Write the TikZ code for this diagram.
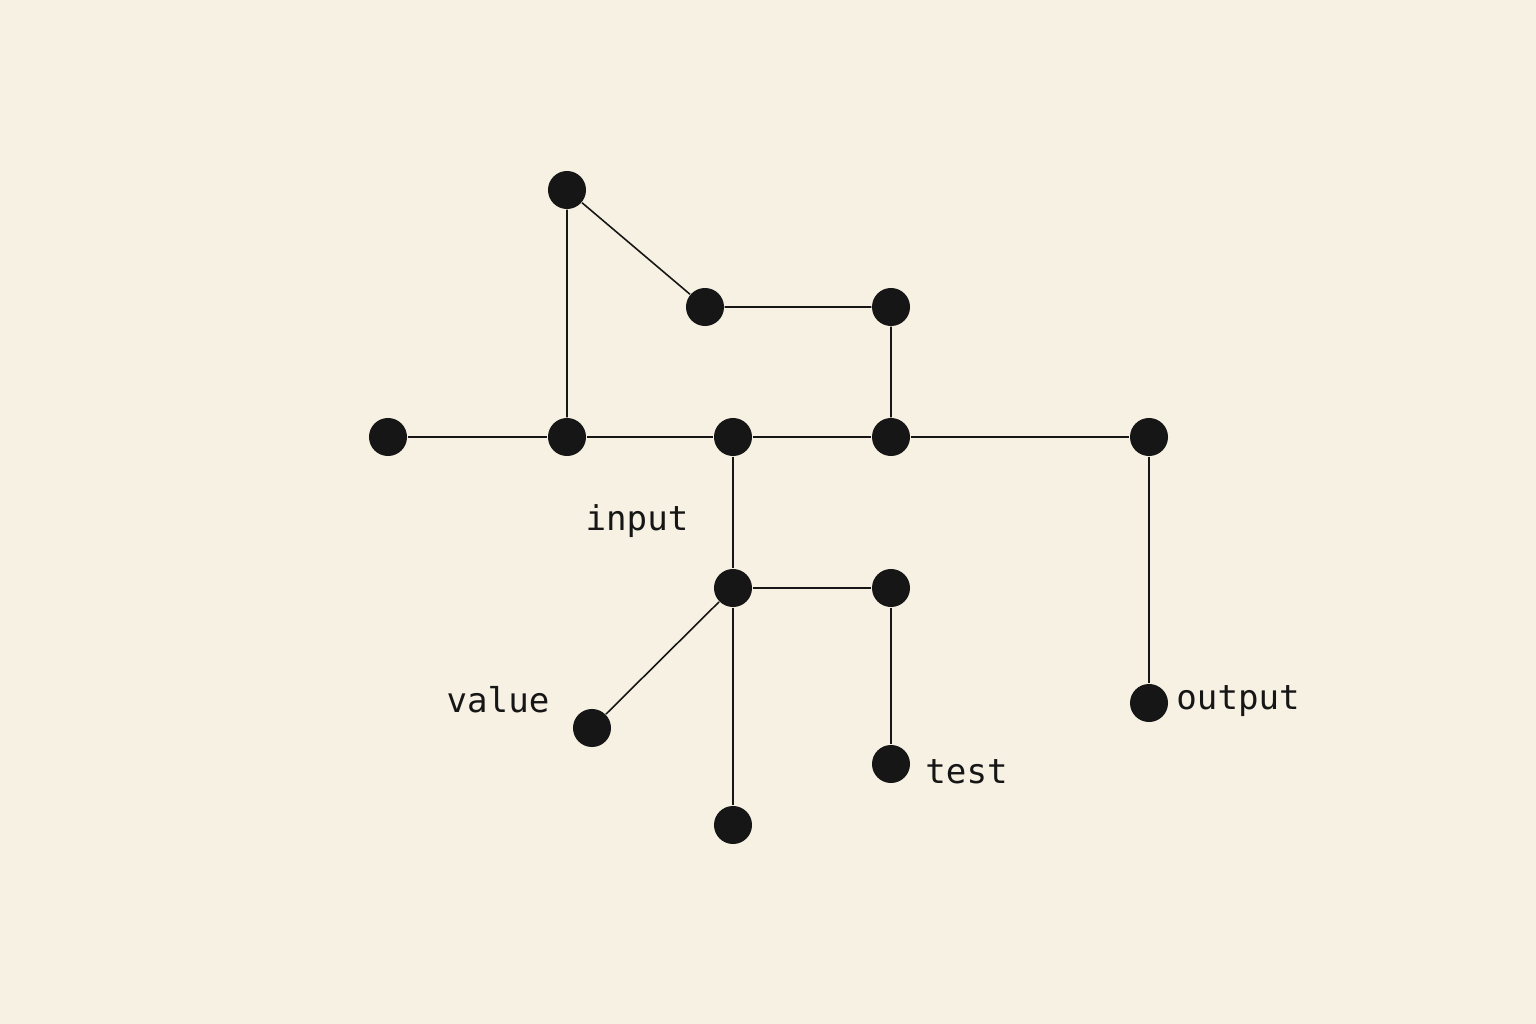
\documentclass[tikz,border=0pt]{standalone}
\usepackage{fontspec}
\setmonofont{DejaVu Sans Mono}
\usepackage{tikz}
\usetikzlibrary{calc}
\definecolor{paper}{HTML}{F7F1E3}
\definecolor{ink}{HTML}{161616}

\begin{document}
\begin{tikzpicture}[x=0.01cm,y=-0.01cm,
    dot/.style={circle,fill=ink,inner sep=0pt,minimum size=0.38cm},
    wire/.style={draw=ink,line width=0.45pt},
    lbl/.style={font=\ttfamily\fontsize{9.7}{11}\selectfont,text=ink}]
  \fill[paper] (0,0) rectangle (1536,1024);
  \useasboundingbox (0,0) rectangle (1536,1024);

  % main row
  \node[dot] (l) at (388,437) {};
  \node[dot] (a) at (567,437) {};
  \node[dot] (b) at (733,437) {};
  \node[dot] (c) at (891,437) {};
  \node[dot] (r) at (1149,437) {};
  % loop on top
  \node[dot] (t) at (567,190) {};
  \node[dot] (m1) at (705,307) {};
  \node[dot] (m2) at (891,307) {};
  % lower branch
  \node[dot] (in) at (733,588) {};
  \node[dot] (in2) at (891,588) {};
  \node[dot] (val) at (592,728) {};
  \node[dot] (bot) at (733,825) {};
  \node[dot] (tst) at (891,764) {};
  \node[dot] (out) at (1149,703) {};

  \path[wire] (l) -- (a) -- (b) -- (c) -- (r);
  \path[wire] (a) -- (t) -- (m1) -- (m2) -- (c);
  \path[wire] (b) -- (in) -- (in2) -- (tst);
  \path[wire] (in) -- (val);
  \path[wire] (in) -- (bot);
  \path[wire] (r) -- (out);

  \node[lbl] (inlbl) at (637,521) {input};
  \node[lbl] (vallbl) at (498,700) {value};
  \node[lbl,anchor=west] (tstlbl) at (913,772) {test};
  \node[lbl,anchor=west] (outlbl) at (1164,701) {output};
\end{tikzpicture}
\end{document}
